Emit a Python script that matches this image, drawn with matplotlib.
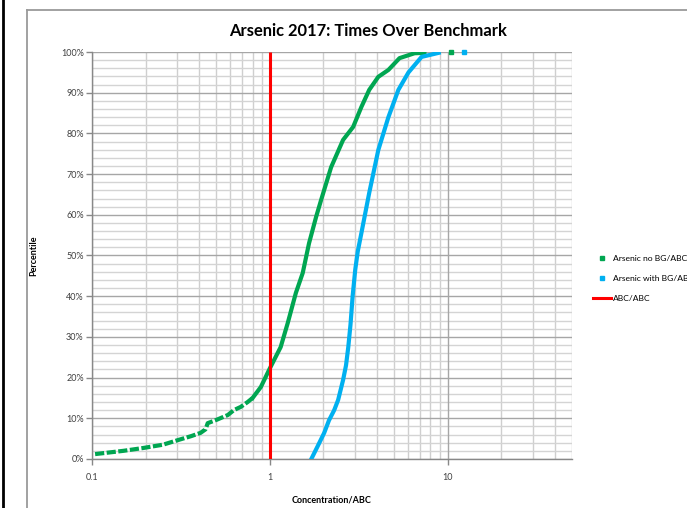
import matplotlib
matplotlib.use("Agg")
import matplotlib.pyplot as plt
from matplotlib.lines import Line2D
from matplotlib.ticker import FixedLocator, FuncFormatter, NullFormatter
import numpy as np

# ---- data ----
green_conc = [0.104, 0.15, 0.194, 0.25, 0.302, 0.36, 0.407, 0.435, 0.447, 0.50, 0.58,
              0.627, 0.686, 0.75, 0.80, 0.89, 0.99, 1.15, 1.26, 1.40, 1.53, 1.66, 1.82,
              1.94, 2.21, 2.58, 2.94, 3.27, 3.62, 4.07, 4.64, 5.36, 6.51, 7.4]
green_pct = [1.2, 2.0, 2.7, 3.5, 4.6, 5.6, 6.4, 7.3, 8.8, 9.6, 10.8,
             12.0, 12.8, 14.0, 15.0, 17.7, 21.9, 27.5, 33.4, 40.8, 45.7, 53.0, 59.5,
             63.6, 71.7, 78.4, 81.6, 86.5, 90.7, 93.9, 95.6, 98.5, 99.7, 99.8]
green_top_conc = [10.5]
green_top_pct = [100.0]

blue_conc = [1.71, 1.85, 2.02, 2.15, 2.30, 2.42, 2.58, 2.68, 2.76, 2.84, 2.92, 3.02, 3.12,
             3.27, 3.62, 4.07, 4.64, 5.28, 6.02, 7.13, 8.9]
blue_pct = [0.0, 3.0, 6.4, 9.5, 12.0, 14.5, 19.4, 23.0, 27.5, 33.0, 40.0, 46.5, 51.0,
            55.5, 65.4, 75.9, 84.0, 90.7, 95.0, 98.8, 99.8]
blue_top_conc = [12.3]
blue_top_pct = [100.0]

benchmark_x = [1.0, 1.0]
benchmark_pct = [0.0, 100.0]

series_names = ["Arsenic no BG/ABC", "Arsenic with BG/ABC", "ABC/ABC"]
title = "Arsenic 2017: Times Over Benchmark"
xlabel = "Concentration/ABC"
ylabel = "Percentile"
x_ticks = [0.1, 1, 10]
x_tick_labels = ["0.1", "1", "10"]

GREEN = "#00a651"
BLUE = "#00b0f0"
RED = "#ff0000"

plt.rcParams['font.family'] = ['Lato', 'DejaVu Sans']

fig = plt.figure(figsize=(6.87, 5.08), dpi=100)
ax = fig.add_axes([0.134, 0.0965, 0.6986, 0.8011])

ax.set_xscale("log")
ax.set_xlim(0.1, 50)
ax.set_ylim(0, 100)

# grid
minor_x = [m * 10.0 ** e for e in (-1, 0, 1) for m in range(2, 10) if m * 10.0 ** e <= 50]
major_x = [0.1, 1, 10]
for xv in minor_x:
    ax.axvline(xv, color="#cfcfcf", lw=1.0, zorder=0)
for xv in major_x:
    ax.axvline(xv, color="#a6a6a6", lw=1.0, zorder=0.5)
for yv in np.arange(0, 101, 2):
    if yv % 10 == 0:
        ax.axhline(yv, color="#a6a6a6", lw=1.0, zorder=0.5)
    else:
        ax.axhline(yv, color="#d4d4d4", lw=1.0, zorder=0)

# series
n_low = 15
gc, gp = np.array(green_conc), np.array(green_pct)
ax.plot(gc[:n_low], gp[:n_low], color=GREEN, lw=3.0, ls=(0, (2.2, 0.6)),
        solid_capstyle="butt", zorder=3)
ax.plot(gc[n_low - 1:], gp[n_low - 1:], color=GREEN, lw=3.0, zorder=3)
ax.plot(green_top_conc, green_top_pct, ls="none", marker="s", ms=2.5, color=GREEN,
        clip_on=False, zorder=3)
ax.plot(blue_conc, blue_pct, color=BLUE, lw=3.0, zorder=4)
ax.plot(blue_top_conc, blue_top_pct, ls="none", marker="s", ms=2.5, color=BLUE,
        clip_on=False, zorder=4)
ax.plot(benchmark_x, benchmark_pct, color=RED, lw=2.2, zorder=5, solid_capstyle="butt")

# axes styling
for s in ["top", "right"]:
    ax.spines[s].set_visible(False)
for s in ["left", "bottom"]:
    ax.spines[s].set_color("#888888")
    ax.spines[s].set_linewidth(1.0)

ax.xaxis.set_major_locator(FixedLocator(x_ticks))
ax.xaxis.set_major_formatter(FuncFormatter(lambda v, p: x_tick_labels[x_ticks.index(v)] if v in x_ticks else ""))
ax.xaxis.set_minor_locator(FixedLocator([]))
ax.xaxis.set_minor_formatter(NullFormatter())
ax.set_yticks(np.arange(0, 101, 10))
ax.yaxis.set_major_formatter(FuncFormatter(lambda v, p: f"{int(round(v))}%"))
ax.tick_params(axis="both", labelsize=6.5, colors="#404040", length=4, width=1.0,
               direction="out")
ax.tick_params(axis="x", pad=6, color="#888888")
ax.tick_params(axis="y", pad=2, color="#888888")
for lab in ax.get_xticklabels() + ax.get_yticklabels():
    lab.set_color("#404040")

ax.set_xlabel(xlabel, fontsize=6.5, fontweight="bold", labelpad=10)
ax.set_ylabel(ylabel, fontsize=6.5, fontweight="bold", labelpad=16)
fig.text(0.536, 0.939, title, fontsize=11.9, fontweight="bold", ha="center", va="center")

# legend (outside, running to the right edge like the reference)
handles = [
    Line2D([], [], ls="none", marker="s", ms=2.5, color=GREEN),
    Line2D([], [], ls="none", marker="s", ms=2.5, color=BLUE),
    Line2D([], [], color=RED, lw=2.2),
]
leg = fig.legend(handles, series_names, loc="upper left", bbox_to_anchor=(0.858, 0.505),
                 frameon=False, fontsize=6.1, handlelength=2.1, handletextpad=0.3,
                 labelspacing=1.55, borderaxespad=0)

# frame lines of the chart area
fig.add_artist(Line2D([0.004, 0.004], [0, 1], transform=fig.transFigure, color="black", lw=2))
fig.add_artist(Line2D([0.040, 0.040], [0, 0.980], transform=fig.transFigure, color="#9a9a9a", lw=1.3))
fig.add_artist(Line2D([0.040, 1.0], [0.980, 0.980], transform=fig.transFigure, color="#9a9a9a", lw=1.3))

fig.savefig("out.png", dpi=100)
